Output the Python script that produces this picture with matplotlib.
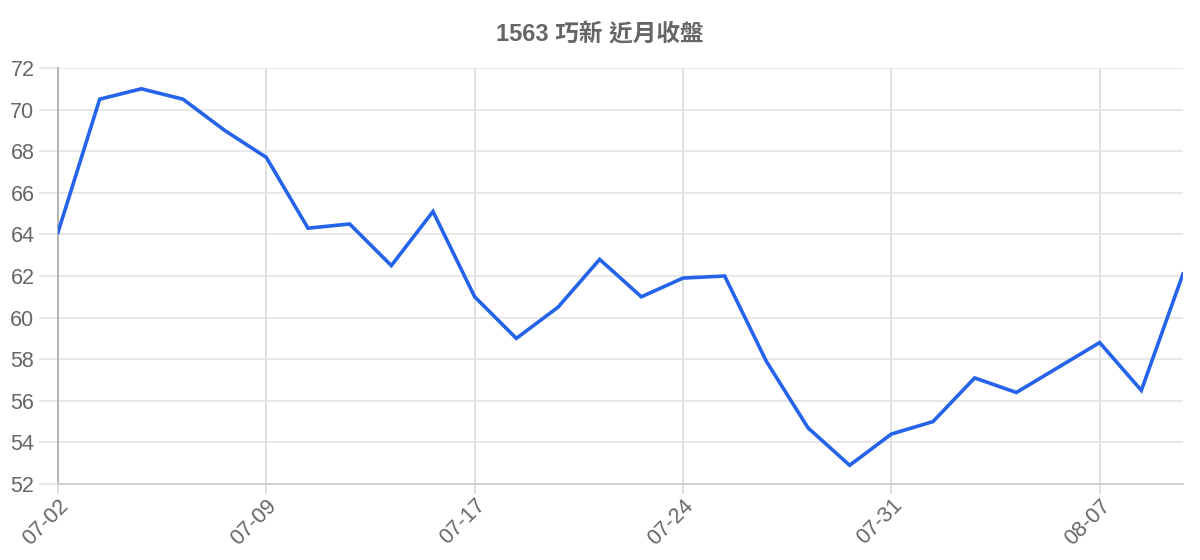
import matplotlib
matplotlib.use("Agg")
import matplotlib.pyplot as plt

plt.rcParams['font.family'] = ['Liberation Sans', 'Noto Sans CJK TC', 'DejaVu Sans']

# trading dates and closing prices
dates = ["07-02", "07-03", "07-04", "07-05", "07-08", "07-09", "07-10", "07-11",
         "07-12", "07-15", "07-17", "07-18", "07-19", "07-22", "07-23", "07-24",
         "07-25", "07-26", "07-29", "07-30", "07-31", "08-01", "08-02", "08-05",
         "08-06", "08-07", "08-08", "08-09"]
close = [64.1, 70.5, 71.0, 70.5, 69.0, 67.7, 64.3, 64.5,
         62.5, 65.1, 61.0, 59.0, 60.5, 62.8, 61.0, 61.9,
         62.0, 57.9, 54.7, 52.9, 54.4, 55.0, 57.1, 56.4,
         57.6, 58.8, 56.5, 62.1]
y_ticks = [52, 54, 56, 58, 60, 62, 64, 66, 68, 70, 72]
label_every = 5

fig = plt.figure(figsize=(12, 5.6), dpi=100)
ax = fig.add_axes([58/1200, 1 - 484/560, (1183 - 58)/1200, (484 - 68)/560])

x = list(range(len(dates)))
ax.plot(x, close, color="#2563eb", linewidth=2.6, solid_joinstyle="miter", zorder=3)

ax.set_xlim(0, len(dates) - 1)
ax.set_ylim(52, 72)
ax.set_yticks(y_ticks)
ax.set_yticklabels([str(v) for v in y_ticks])
xt = x[::label_every]
ax.set_xticks(xt)
ax.set_xticklabels([dates[i] for i in xt], rotation=45, ha="right",
                   rotation_mode="anchor")

ax.grid(axis="y", color="#e4e4e4", linewidth=1.2)
ax.grid(axis="x", color="#dcdcdc", linewidth=1.2)
ax.set_axisbelow(True)

for s in ["top", "right"]:
    ax.spines[s].set_visible(False)
ax.spines["left"].set_color("#b0b0b0")
ax.spines["left"].set_linewidth(1.3)
ax.spines["bottom"].set_color("#cccccc")
ax.spines["bottom"].set_linewidth(1.3)

ax.tick_params(axis="y", length=14, width=1.2, color="#e4e4e4",
               labelsize=15.5, labelcolor="#666666", pad=3)
ax.tick_params(axis="x", length=7, width=1.2, color="#dcdcdc",
               labelsize=15.5, labelcolor="#666666", pad=1)

fig.text(0.5, 1 - 35/560, "1563 巧新 近月收盤", ha="center", va="center",
         fontsize=17, fontweight="bold", color="#666666")

fig.savefig("out.png", dpi=100)
